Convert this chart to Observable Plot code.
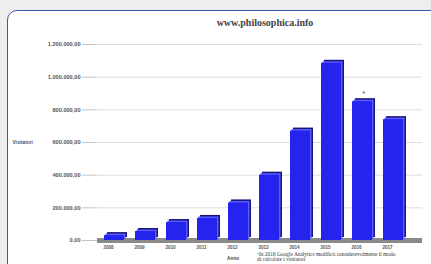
<!DOCTYPE html>
<html><head><meta charset="utf-8">
<script src="https://cdn.jsdelivr.net/npm/d3@7"></script>
<script src="https://cdn.jsdelivr.net/npm/@observablehq/plot@0.6"></script>
<style>
body{margin:0;background:#eeeeee;width:431px;height:264px;overflow:hidden;position:relative}
#card{position:absolute;left:7px;top:10px;width:440px;height:280px;border:1.5px solid #3d55a8;border-radius:10px;background:#fff}
#title{position:absolute;left:0;width:530px;top:17px;text-align:center;font-family:"Liberation Serif","DejaVu Serif",serif;font-weight:bold;font-size:10px;color:#444}
#chart{position:absolute;left:0;top:0}
#note{position:absolute;left:257px;top:252px;font-family:"Liberation Serif","DejaVu Serif",serif;font-size:5.4px;color:#333;line-height:5.2px;white-space:nowrap}
#xl{position:absolute;left:227px;top:256px;font-family:"Liberation Sans",sans-serif;font-weight:bold;font-size:4.8px;color:#444}
</style></head><body>
<div id="card"></div>
<div id="title">www.philosophica.info</div>
<div id="chart"></div>
<div id="xl">Anno</div>
<div id="note"><span style="font-size:4px;vertical-align:top">*</span>In 2016 Google Analytics modificò considerevolmente il modo<br>di calcolare i visitatori</div>
<script>
const years = ["2008","2009","2010","2011","2012","2013","2014","2015","2016","2017"];
const visitors = [30000, 55000, 110000, 135000, 230000, 400000, 670000, 1085000, 850000, 740000];
const yTicks = [0, 200000, 400000, 600000, 800000, 1000000, 1200000];
const yLabel = "Visitatori";
const starYear = "2016";

const data = years.map((y, i) => ({year: y, value: visitors[i]}));
const loc = d3.formatLocale({decimal: ",", thousands: ".", grouping: [3], currency: ["", "€"]});
const fmt = loc.format(",.2f");

const chart = Plot.plot({
  width: 431, height: 264,
  marginLeft: 97, marginRight: 9, marginTop: 44, marginBottom: 24,
  style: {background: "transparent", fontFamily: "Liberation Sans, sans-serif"},
  x: {domain: years, range: [89, 417], padding: 0.36, axis: null},
  y: {domain: [0, 1200000], ticks: yTicks, axis: null},
  marks: [
    Plot.gridY(yTicks, {stroke: "#d4d4d4", strokeOpacity: 1, strokeWidth: 0.8}),
    Plot.axisY({ticks: yTicks, tickFormat: fmt, tickSize: 15, tickPadding: 2, fontSize: 5.6, fontWeight: "bold", fill: "#555", stroke: "#c4c4c4", label: null}),
    Plot.ruleX([null], {stroke: "#d4d4d4"}),
    Plot.text([yLabel], {frameAnchor: "left", dx: -85, text: d => d, fontSize: 4.8, fontWeight: "bold", fill: "#555", textAnchor: "start"}),
    Plot.ruleY([0], {stroke: "#8a8a8a", strokeWidth: 5}),
    Plot.barY(data, {x: "year", y: "value", fill: "#15157a", dx: 3, dy: -3}),
    Plot.barY(data, {x: "year", y: "value", fill: "#5a5aff", dx: 1.5, dy: -1.5}),
    Plot.barY(data, {x: "year", y: "value", fill: "#2424ee"}),
    Plot.text(data.filter(d => d.year === starYear), {x: "year", y: "value", text: () => "*", dy: -8, dx: 1, fontSize: 7, fill: "#333"}),
    Plot.axisX({ticks: years, tickSize: 0, tickPadding: 5, dx: -6, fontSize: 4.6, fontWeight: "bold", fill: "#555", label: null})
  ]
});
document.getElementById("chart").appendChild(chart);
</script>
</body></html>
